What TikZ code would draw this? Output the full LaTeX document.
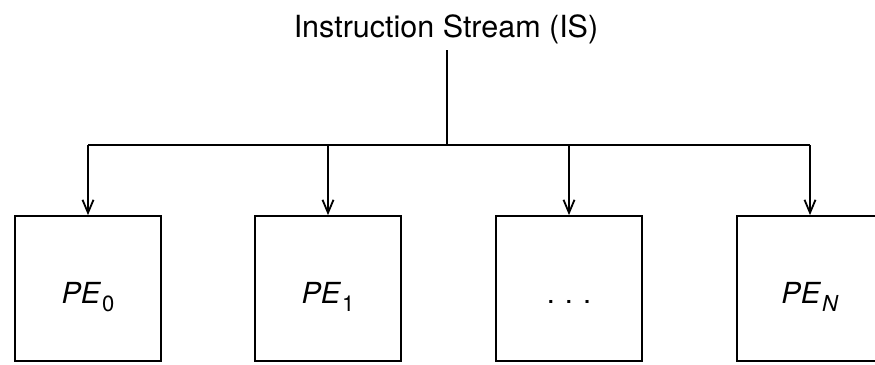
\documentclass[tikz,border=0pt]{standalone}
\usepackage{fontspec}
\setmainfont{TeX Gyre Heros}
\usetikzlibrary{arrows.meta}
% processing-element label: italic "PE" with a lowered subscript
\newcommand\pelabel[1]{\textit{PE}\kern1pt\raisebox{-8pt}{\fontsize{22}{22}\selectfont #1}}
\begin{document}
\begin{tikzpicture}[x=1pt,y=-1pt,line width=1.8pt,
  pebox/.style={draw, minimum width=146pt, minimum height=145pt, inner sep=0pt,
    font=\fontsize{29}{29}\selectfont, text height=30pt, text depth=0pt},
  feed/.style={-{Straight Barb[length=13pt,width=11pt,line width=1.8pt]}}]
\useasboundingbox (0,0) rectangle (875,364);

% instruction stream source
\node[anchor=base, inner sep=0pt, font=\fontsize{30.5}{30.5}\selectfont] (is) at (446,37)
  {Instruction Stream (IS)};

% processing elements
\node[pebox] (pe0) at (88,288.5)  {\pelabel{0}};
\node[pebox] (pe1) at (328,288.5) {\pelabel{1}};
\node[pebox] (pex) at (569,288.5) {.\hspace{10pt}.\hspace{10pt}.};
\node[pebox] (pen) at (810,288.5) {\pelabel{\textit{N}}};

% broadcast bus
\coordinate (hub) at (447,145);
\coordinate (b0) at (pe0.north |- hub);
\coordinate (b1) at (pe1.north |- hub);
\coordinate (bx) at (pex.north |- hub);
\coordinate (bn) at (pen.north |- hub);

\draw ([yshift=-6pt]is.south -| hub) -- (hub);
\draw (b0) -- (bn);
\draw[feed] (b0) -- (pe0.north);
\draw[feed] (b1) -- (pe1.north);
\draw[feed] (bx) -- (pex.north);
\draw[feed] (bn) -- (pen.north);
\end{tikzpicture}
\end{document}
